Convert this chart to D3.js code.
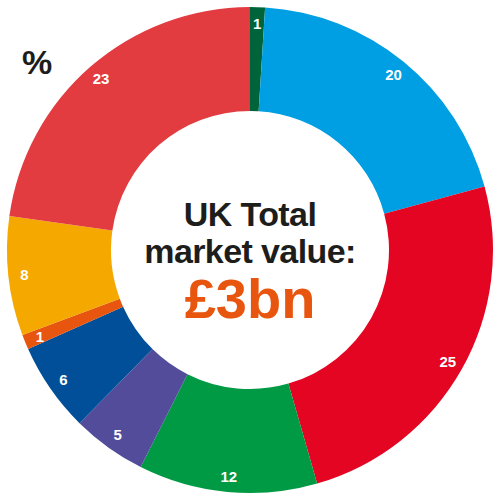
<!DOCTYPE html>
<html>
<head>
<meta charset="utf-8">
<script src="https://cdn.jsdelivr.net/npm/d3@7"></script>
<style>
  html, body { margin: 0; padding: 0; background: #fff; }
  svg { display: block; }
</style>
</head>
<body>
<svg id="chart" width="500" height="498"></svg>
<script>
// Market share by segment, percent (clockwise from 12 o'clock)
const segments = ["A", "B", "C", "D", "E", "F", "G", "H", "I"];
const shares = [1, 20, 25, 12, 5, 6, 1, 8, 23];
const colors = ["#00643a", "#009ee2", "#e30521", "#009944", "#524c9a", "#004f98", "#e8550f", "#f5a800", "#e23c41"];

const W = 500, H = 498;
const cx = 250, cy = 250;
const outerR = 243, innerR = 139, labelR = 227;

const svg = d3.select("#chart");
const g = svg.append("g").attr("transform", `translate(${cx},${cy})`);

const data = segments.map((s, i) => ({ seg: s, value: shares[i], color: colors[i] }));

const pie = d3.pie().value(d => d.value).sort(null);
const arc = d3.arc().innerRadius(innerR).outerRadius(outerR);
const labelArc = d3.arc().innerRadius(labelR).outerRadius(labelR);

const arcs = pie(data);

g.selectAll("path.slice")
  .data(arcs)
  .join("path")
  .attr("class", "slice")
  .attr("d", arc)
  .attr("fill", d => d.data.color);

g.selectAll("text.val")
  .data(arcs)
  .join("text")
  .attr("class", "val")
  .attr("transform", d => `translate(${labelArc.centroid(d)})`)
  .attr("text-anchor", "middle")
  .attr("dominant-baseline", "central")
  .attr("fill", "#fff")
  .attr("font-family", "Liberation Sans, Arial, sans-serif")
  .attr("font-weight", "bold")
  .attr("font-size", 15)
  .text(d => d.data.value);

// Centre caption
const font = "Liberation Sans, Arial, sans-serif";
g.append("text")
  .attr("x", 0).attr("y", -24)
  .attr("text-anchor", "middle")
  .attr("font-family", font).attr("font-weight", "bold")
  .attr("font-size", 34).attr("letter-spacing", -0.6)
  .attr("fill", "#1d1d1b")
  .text("UK Total");
g.append("text")
  .attr("x", 0).attr("y", 13)
  .attr("text-anchor", "middle")
  .attr("font-family", font).attr("font-weight", "bold")
  .attr("font-size", 34).attr("letter-spacing", -0.6)
  .attr("fill", "#1d1d1b")
  .text("market value:");
g.append("text")
  .attr("x", 0).attr("y", 68)
  .attr("text-anchor", "middle")
  .attr("font-family", font).attr("font-weight", "bold")
  .attr("font-size", 56).attr("letter-spacing", 0)
  .attr("fill", "#e8550f")
  .text("£3bn");

// Unit marker
svg.append("text")
  .attr("x", 22).attr("y", 74)
  .attr("font-family", font)
  .attr("font-weight", "bold")
  .attr("font-size", 34)
  .attr("fill", "#1d1d1b")
  .text("%");
</script>
</body>
</html>
